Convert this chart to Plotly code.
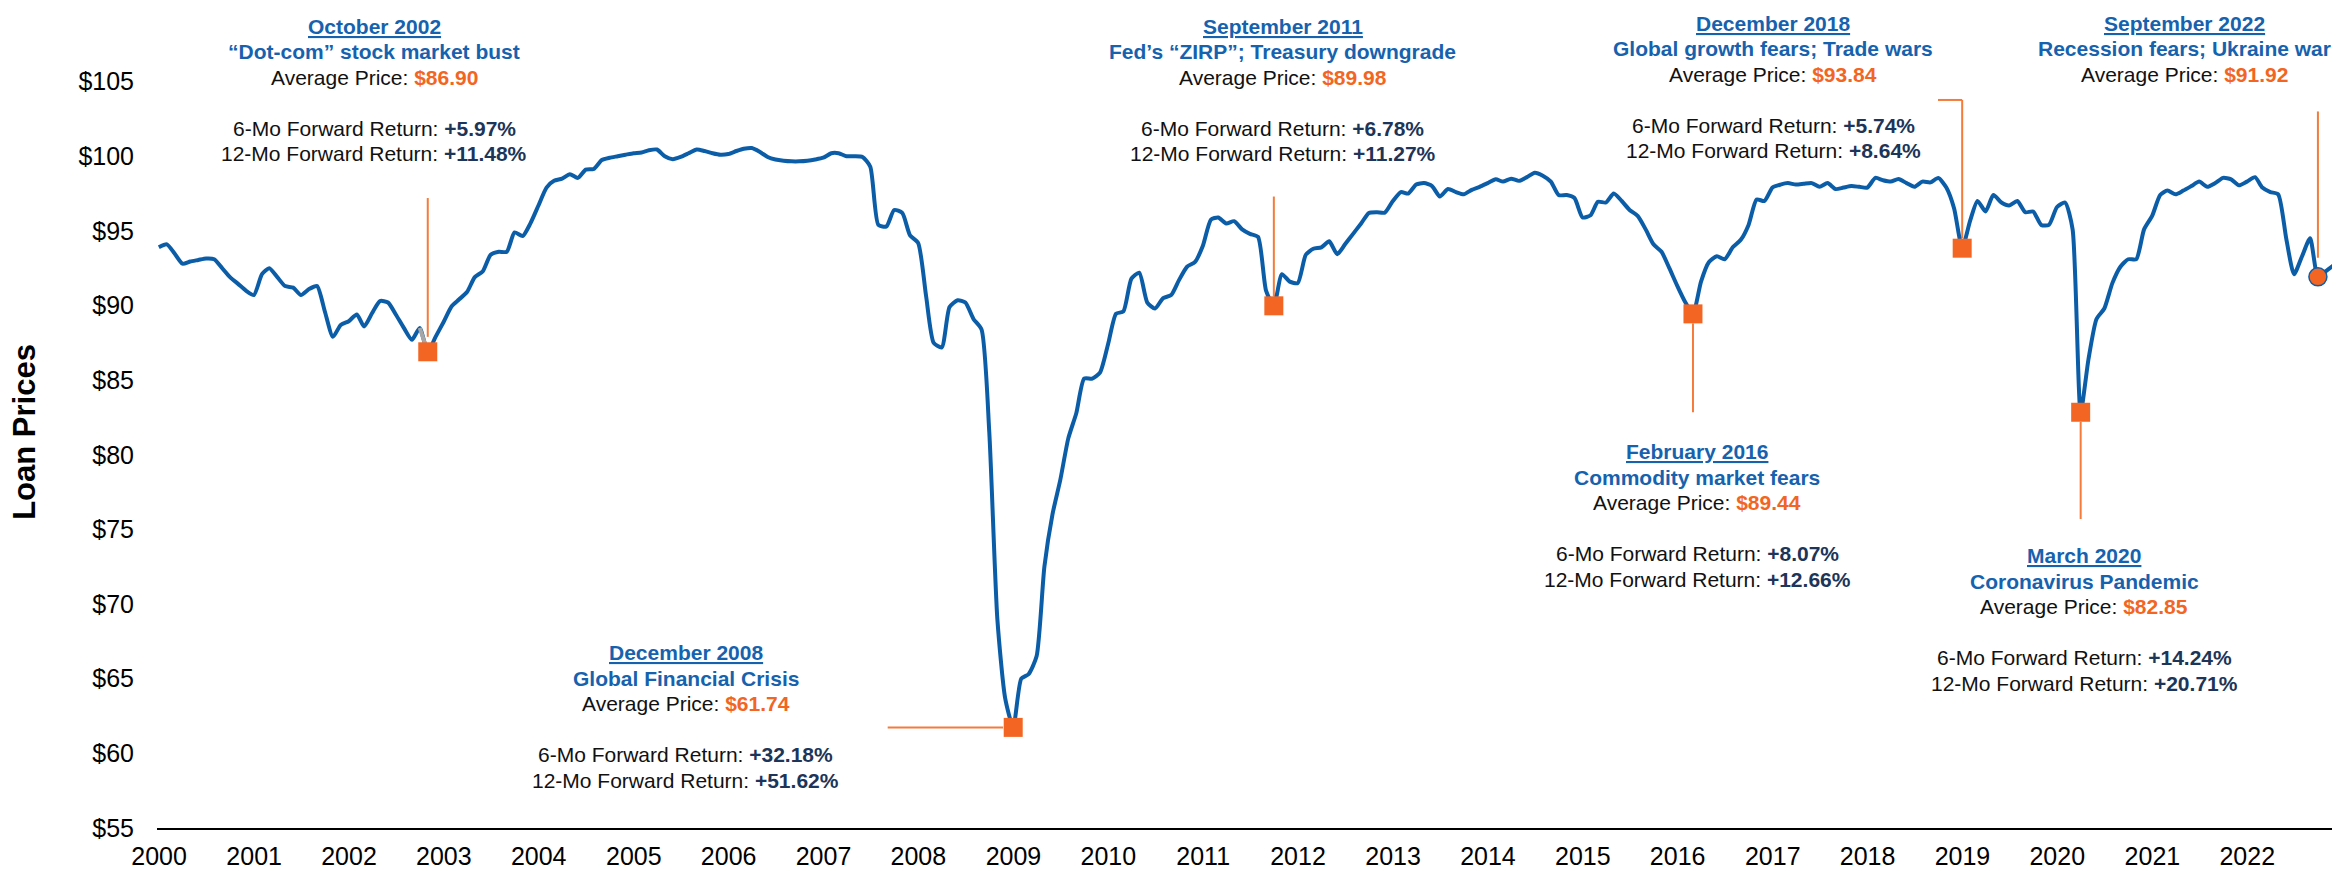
import pandas as pd
import plotly.graph_objects as go

FONT = "Liberation Sans, Arial, sans-serif"
LINE_BLUE = "#0B5DA8"
TITLE_BLUE = "#1662AE"
ORANGE = "#F26522"
CONNECTOR = "#F47B3A"
NAVY = "#1C3558"

# month-end loan prices, Dec 1999 .. Nov 2022
loan_price = [
    93.9,
    94.1, 93.5, 92.8, 92.95, 93.05, 93.15, 93.1, 92.5, 91.9, 91.45, 91.0, 90.7,  # 2000
    92.1, 92.5, 91.9, 91.3, 91.2, 90.7, 91.1, 91.3, 89.6, 87.9, 88.7, 88.95,  # 2001
    89.4, 88.6, 89.5, 90.3, 90.2, 89.4, 88.5, 87.7, 88.5, 86.9, 87.9, 88.9,  # 2002
    89.95, 90.4, 90.9, 91.9, 92.3, 93.4, 93.6, 93.6, 94.9, 94.65, 95.5, 96.7,  # 2003
    97.9, 98.35, 98.5, 98.8, 98.55, 99.1, 99.15, 99.75, 99.9, 100.0, 100.1, 100.2,  # 2004
    100.25, 100.4, 100.45, 100.0, 99.8, 99.95, 100.2, 100.45, 100.35, 100.2, 100.1, 100.15,  # 2005
    100.35, 100.5, 100.55, 100.3, 99.95, 99.78, 99.7, 99.66, 99.66, 99.7, 99.78, 99.9,  # 2006
    100.2, 100.2, 100.0, 100.0, 99.95, 99.3, 95.4, 95.3, 96.4, 96.2, 94.7, 94.2,  # 2007
    90.6, 87.5, 87.2, 89.9, 90.35, 90.2, 89.1, 88.4, 81.5, 69.0, 63.7, 61.74,  # 2008
    65.0, 65.3, 66.5, 72.5, 76.0, 78.3, 81.1, 82.8, 85.1, 85.1, 85.5, 87.4,  # 2009
    89.45, 89.6, 91.8, 92.2, 90.2, 89.8, 90.5, 90.7, 91.7, 92.6, 92.9, 94.0,  # 2010
    95.75, 95.9, 95.5, 95.65, 95.1, 94.8, 94.6, 91.0, 89.98, 92.1, 91.6, 91.5,  # 2011
    93.4, 93.8, 93.9, 94.3, 93.44, 94.1, 94.8, 95.5, 96.2, 96.25, 96.22, 97.0,  # 2012
    97.6, 97.5, 98.1, 98.2, 98.0, 97.3, 97.8, 97.6, 97.45, 97.75, 97.95, 98.2,  # 2013
    98.45, 98.3, 98.5, 98.35, 98.6, 98.9, 98.7, 98.3, 97.4, 97.4, 97.2, 95.9,  # 2014
    96.05, 96.95, 96.9, 97.5, 97.0, 96.4, 96.0, 95.1, 94.1, 93.6, 92.5, 91.3,  # 2015
    90.2, 89.44, 91.6, 92.9, 93.3, 93.1, 93.9, 94.4, 95.4, 97.1, 97.0, 97.9,  # 2016
    98.1, 98.2, 98.1, 98.15, 98.2, 97.95, 98.2, 97.8, 97.9, 98.0, 97.95, 97.9,  # 2017
    98.55, 98.4, 98.3, 98.48, 98.2, 97.95, 98.3, 98.25, 98.55, 97.9, 96.5, 93.84,  # 2018
    95.7, 97.0, 96.3, 97.4, 96.9, 96.7, 97.0, 96.25, 96.3, 95.4, 95.4, 96.6,  # 2019
    96.9, 95.1, 82.85, 86.4, 89.1, 89.8, 91.5, 92.6, 93.1, 93.1, 95.1, 96.0,  # 2020
    97.4, 97.7, 97.45, 97.7, 98.0, 98.3, 97.95, 98.2, 98.55, 98.45, 98.05, 98.3,  # 2021
    98.6, 97.9, 97.6, 97.45, 94.5, 92.1, 93.3, 94.5, 91.92, 92.3, 92.7,  # 2022
]
months = pd.date_range("1999-12-31", periods=len(loan_price), freq=pd.offsets.MonthEnd())

# stress events
event_dates = ["2002-10-31", "2008-12-31", "2011-09-30", "2016-02-29",
               "2018-12-31", "2020-03-31", "2022-09-30"]
event_prices = [86.90, 61.74, 89.98, 89.44, 93.84, 82.85, 91.92]
event_titles = ["October 2002", "December 2008", "September 2011", "February 2016",
                "December 2018", "March 2020", "September 2022"]
event_causes = ["“Dot-com” stock market bust", "Global Financial Crisis",
                "Fed’s “ZIRP”; Treasury downgrade", "Commodity market fears",
                "Global growth fears; Trade wars", "Coronavirus Pandemic",
                "Recession fears; Ukraine war"]
fwd_6m = ["+5.97%", "+32.18%", "+6.78%", "+8.07%", "+5.74%", "+14.24%", None]
fwd_12m = ["+11.48%", "+51.62%", "+11.27%", "+12.66%", "+8.64%", "+20.71%", None]

# where each text block sits: centre date, price of first line
block_x = ["2002-04-08", "2005-07-20", "2011-11-04", "2016-03-16",
           "2017-01-03", "2020-04-14", "2021-05-04"]
block_y = [108.72, 66.73, 108.72, 80.19, 108.92, 73.23, 108.92]
LINE_STEP = 1.708

y_ticks = [55, 60, 65, 70, 75, 80, 85, 90, 95, 100, 105]
y_labels = ["$" + str(v) for v in y_ticks]

fig = go.Figure()

fig.add_trace(
    go.Scatter(
        x=months,
        y=loan_price,
        mode="lines",
        line={"color": LINE_BLUE, "width": 4, "shape": "spline", "smoothing": 0.6},
        hoverinfo="skip",
    )
)

# grey last leg into the 2002 low
i02 = list(months).index(pd.Timestamp(event_dates[0]))
fig.add_trace(
    go.Scatter(
        x=months[i02 - 1:i02 + 1],
        y=loan_price[i02 - 1:i02 + 1],
        mode="lines",
        line={"color": "#A6A6A6", "width": 4},
        hoverinfo="skip",
    )
)

fig.add_trace(
    go.Scatter(
        x=event_dates[:-1],
        y=event_prices[:-1],
        mode="markers",
        marker={"symbol": "square", "size": 19, "color": ORANGE, "line": {"width": 0}},
        hoverinfo="skip",
    )
)
fig.add_trace(
    go.Scatter(
        x=event_dates[-1:],
        y=event_prices[-1:],
        mode="markers",
        marker={"symbol": "circle", "size": 18, "color": ORANGE,
                "line": {"width": 1.5, "color": LINE_BLUE}},
        hoverinfo="skip",
    )
)


def connector(x0, y0, x1, y1):
    fig.add_shape(type="line", x0=x0, y0=y0, x1=x1, y1=y1, xref="x", yref="y",
                  line={"color": CONNECTOR, "width": 2}, layer="below")


connector(event_dates[0], 97.2, event_dates[0], 87.9)
connector("2007-09-05", event_prices[1], "2008-11-22", event_prices[1])
connector(event_dates[2], 97.3, event_dates[2], 90.6)
connector(event_dates[3], 88.8, event_dates[3], 82.85)
connector("2018-09-29", 103.77, event_dates[4], 103.77)
connector(event_dates[4], 103.77, event_dates[4], 94.5)
connector(event_dates[5], 82.2, event_dates[5], 75.7)
connector(event_dates[6], 103.0, event_dates[6], 93.2)


def add_block(x, y_top, lines):
    for i, txt in enumerate(lines):
        if not txt:
            continue
        fig.add_annotation(
            x=x, y=y_top - i * LINE_STEP, xref="x", yref="y",
            text=txt, showarrow=False, xanchor="center", yanchor="middle",
            font={"family": FONT, "size": 21, "color": "#111111"},
        )


for k in range(len(event_dates)):
    lines = [
        f"<span style='color:{TITLE_BLUE}'><b><u>{event_titles[k]}</u></b></span>",
        f"<span style='color:{TITLE_BLUE}'><b>{event_causes[k]}</b></span>",
        f"Average Price: <b><span style='color:{ORANGE}'>${event_prices[k]:.2f}</span></b>",
        "",
    ]
    if fwd_6m[k]:
        lines.append(f"6-Mo Forward Return: <b><span style='color:{NAVY}'>{fwd_6m[k]}</span></b>")
        lines.append(f"12-Mo Forward Return: <b><span style='color:{NAVY}'>{fwd_12m[k]}</span></b>")
    add_block(block_x[k], block_y[k], lines)

fig.add_annotation(
    x=-0.0605, y=0.483, xref="paper", yref="paper",
    text="<b>Loan Prices</b>", textangle=-90, showarrow=False,
    xanchor="center", yanchor="middle",
    font={"family": FONT, "size": 31, "color": "black"},
)

# page body adds an 8px margin, so the figure is 8px short each way
fig.update_layout(
    width=2332,
    height=863,
    margin={"l": 149, "r": 0, "t": 0, "b": 43},
    paper_bgcolor="white",
    plot_bgcolor="white",
    showlegend=False,
    font={"family": FONT, "color": "black"},
    xaxis={
        "type": "date",
        "range": ["1999-12-24", "2022-12-24"],
        "tick0": "2000-01-01",
        "dtick": "M12",
        "tickformat": "%Y",
        "showgrid": False,
        "zeroline": False,
        "showline": True,
        "linecolor": "black",
        "linewidth": 2,
        "ticks": "",
        "tickfont": {"family": FONT, "size": 25, "color": "black"},
        "ticklabelstandoff": 5,
    },
    yaxis={
        "range": [55, 109.93],
        "tickmode": "array",
        "tickvals": y_ticks,
        "ticktext": y_labels,
        "showgrid": False,
        "zeroline": False,
        "showline": False,
        "ticks": "",
        "tickfont": {"family": FONT, "size": 25, "color": "black"},
        "ticklabelstandoff": 22,
    },
)

fig.write_html("out.html")
